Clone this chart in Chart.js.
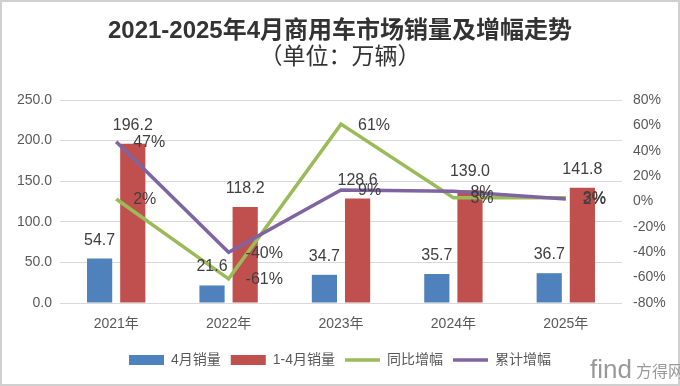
<!DOCTYPE html>
<html>

<head>
    <title>commercial_vehicle_sales</title>
    <script src="https://cdn.jsdelivr.net/npm/chart.js"></script>
    <style>
        body {
            margin: 0;
            background: #fff;
        }

        #chartCanvas {
            display: block;
        }
    </style>
</head>

<body>
    <canvas id="chartCanvas" width="680" height="386"></canvas>
    <script>
        const years = ['2021年', '2022年', '2023年', '2024年', '2025年'];
        const aprilSales = [54.7, 21.6, 34.7, 35.7, 36.7];
        const janAprSales = [196.2, 118.2, 128.6, 139.0, 141.8];
        const yoyGrowth = [2, -61, 61, 3, 3];
        const cumGrowth = [47, -40, 9, 8, 2];
        const titleLines = ['2021-2025年4月商用车市场销量及增幅走势', '（单位：万辆）'];

        const FONT = '"Liberation Sans", "Noto Sans CJK SC", sans-serif';
        const TEXT = '#595959';

        // title, frame and watermark drawn straight on the canvas
        const frame = {
            id: 'frame',
            beforeDraw(chart) {
                const ctx = chart.ctx;
                ctx.save();
                ctx.fillStyle = '#fff';
                ctx.fillRect(0, 0, chart.width, chart.height);
                ctx.restore();
            },
            afterDraw(chart) {
                const ctx = chart.ctx;
                ctx.save();
                ctx.strokeStyle = '#d0d0d0';
                ctx.lineWidth = 2;
                ctx.strokeRect(1, 1, chart.width - 2, chart.height - 2);
                ctx.textAlign = 'center';
                ctx.textBaseline = 'middle';
                ctx.fillStyle = '#333';
                ctx.font = 'bold 24px ' + FONT;
                ctx.fillText(titleLines[0], 340, 31);
                ctx.font = '23px ' + FONT;
                ctx.fillText(titleLines[1], 340, 58);
                ctx.textAlign = 'left';
                ctx.fillStyle = '#999';
                ctx.font = '26px ' + FONT;
                ctx.fillText('find', 590, 371);
                ctx.font = '16px ' + FONT;
                ctx.fillText('方得网', 636, 373);
                ctx.restore();
            }
        };

        const valueLabels = {
            id: 'valueLabels',
            afterDatasetsDraw(chart) {
                const ctx = chart.ctx;
                ctx.save();
                ctx.font = '16px ' + FONT;
                ctx.fillStyle = '#404040';
                chart.data.datasets.forEach((ds, i) => {
                    const meta = chart.getDatasetMeta(i);
                    meta.data.forEach((el, j) => {
                        const v = ds.data[j];
                        if (ds.type === 'bar') {
                            ctx.textAlign = 'center';
                            ctx.textBaseline = 'alphabetic';
                            ctx.fillText(v.toFixed(1), el.x, el.y - 14);
                        } else {
                            ctx.textAlign = 'left';
                            ctx.textBaseline = 'middle';
                            ctx.fillText(v + '%', el.x + 17, el.y + 1);
                        }
                    });
                });
                ctx.restore();
            }
        };

        new Chart(document.getElementById('chartCanvas'), {
            data: {
                labels: years,
                datasets: [{
                    type: 'bar',
                    label: '4月销量',
                    data: aprilSales,
                    backgroundColor: '#4F81BD',
                    borderWidth: 0,
                    yAxisID: 'y',
                    order: 2,
                    pointStyle: 'rect',
                    categoryPercentage: 0.59,
                    barPercentage: 0.76
                }, {
                    type: 'bar',
                    label: '1-4月销量',
                    data: janAprSales,
                    backgroundColor: '#C0504D',
                    borderWidth: 0,
                    yAxisID: 'y',
                    order: 2,
                    pointStyle: 'rect',
                    categoryPercentage: 0.59,
                    barPercentage: 0.76
                }, {
                    type: 'line',
                    label: '同比增幅',
                    data: yoyGrowth,
                    borderColor: '#9BBB59',
                    backgroundColor: '#9BBB59',
                    borderWidth: 3.5,
                    pointRadius: 0,
                    tension: 0,
                    yAxisID: 'y1',
                    order: 1,
                    pointStyle: 'line'
                }, {
                    type: 'line',
                    label: '累计增幅',
                    data: cumGrowth,
                    borderColor: '#8064A2',
                    backgroundColor: '#8064A2',
                    borderWidth: 3.5,
                    pointRadius: 0,
                    tension: 0,
                    yAxisID: 'y1',
                    order: 0,
                    pointStyle: 'line'
                }]
            },
            options: {
                responsive: false,
                animation: false,
                layout: {
                    padding: { top: 100, bottom: 9, left: 0, right: 0 }
                },
                plugins: {
                    tooltip: { enabled: false },
                    title: { display: false },
                    legend: {
                        position: 'bottom',
                        labels: {
                            usePointStyle: true,
                            pointStyleWidth: 35,
                            boxHeight: 10,
                            padding: 10,
                            color: TEXT,
                            font: { size: 14, family: FONT },
                            sort: (a, b) => a.datasetIndex - b.datasetIndex
                        }
                    }
                },
                scales: {
                    x: {
                        grid: { display: false, drawTicks: false },
                        border: { display: false },
                        ticks: { color: TEXT, font: { size: 14, family: FONT }, padding: 13 },
                        afterFit: (s) => { s.height = 40; }
                    },
                    y: {
                        position: 'left',
                        min: 0,
                        max: 250,
                        ticks: {
                            stepSize: 50,
                            padding: 8,
                            color: TEXT,
                            font: { size: 14, family: FONT },
                            callback: (v) => v.toFixed(1)
                        },
                        grid: { color: '#d9d9d9', drawTicks: false },
                        border: { display: false },
                        afterFit: (s) => { s.width = 60; }
                    },
                    y1: {
                        position: 'right',
                        min: -80,
                        max: 80,
                        ticks: {
                            stepSize: 20,
                            padding: 11,
                            color: TEXT,
                            font: { size: 14, family: FONT },
                            callback: (v) => v + '%'
                        },
                        grid: { display: false, drawTicks: false },
                        border: { display: false },
                        afterFit: (s) => { s.width = 58; }
                    }
                }
            },
            plugins: [frame, valueLabels]
        });
    </script>
</body>

</html>
